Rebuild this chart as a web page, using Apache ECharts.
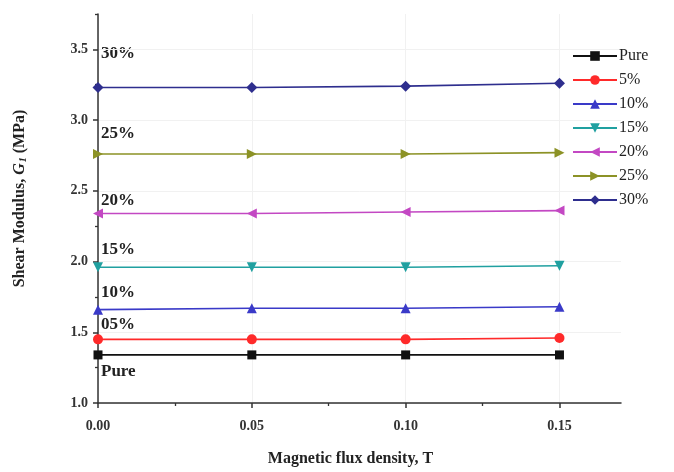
<!DOCTYPE html>
<html><head><meta charset="utf-8">
<script src="https://cdn.jsdelivr.net/npm/echarts@6/dist/echarts.min.js"></script>
<style>html,body{margin:0;padding:0;background:#fff}#c{width:674px;height:472px}</style>
</head><body><div id="c"></div>
<script>
const fieldX = [0.00, 0.05, 0.10, 0.15];
const seriesNames = ['Pure', '5%', '10%', '15%', '20%', '25%', '30%'];
const pure = [1.34, 1.34, 1.34, 1.34];
const p5 = [1.45, 1.45, 1.45, 1.46];
const p10 = [1.66, 1.67, 1.67, 1.68];
const p15 = [1.96, 1.96, 1.96, 1.97];
const p20 = [2.34, 2.34, 2.35, 2.36];
const p25 = [2.76, 2.76, 2.76, 2.77];
const p30 = [3.23, 3.23, 3.24, 3.26];
const xMajorTicks = [0.00, 0.05, 0.10, 0.15];
const xMinorTicks = [0.025, 0.075, 0.125];
const yMajorTicks = [1.0, 1.5, 2.0, 2.5, 3.0, 3.5];
const yMinorTicks = [1.25, 1.75, 2.25, 2.75, 3.25, 3.75];
const annotations = ['30%', '25%', '20%', '15%', '10%', '05%', 'Pure'];

const allValues = [pure, p5, p10, p15, p20, p25, p30];
const colors = ['#111111', '#ff2a2a', '#3a3ac8', '#20a0a0', '#c348c3', '#8c9226', '#2e2e8e'];
const symbols = ['rect', 'circle', 'triangle', 'triangle', 'triangle', 'triangle', 'diamond'];
const rotations = [0, 0, 0, 180, 90, -90, 0];
const sizes = [9, 10, 10, 10, 10, 10, 11];

const serif = 'Liberation Serif';
const chart = echarts.init(document.getElementById('c'));

const series = allValues.map((vals, i) => ({
  name: seriesNames[i],
  type: 'line',
  xAxisIndex: 0, yAxisIndex: 0,
  data: vals.map((v, j) => [fieldX[j], v]),
  symbol: symbols[i],
  symbolRotate: rotations[i],
  symbolSize: sizes[i],
  showAllSymbol: true,
  color: colors[i],
  lineStyle: { width: 1.6, color: colors[i] },
  itemStyle: { color: colors[i] },
  z: 3 + i
}));

const annoY = [54, 134, 201, 250, 293, 325, 372];
const graphics = annotations.map((t, i) => ({
  type: 'text', left: 101, top: annoY[i] - 9,
  style: { text: t, font: 'bold 17px "Liberation Serif"', fill: '#222' }
}));

chart.setOption({
  animation: false,
  backgroundColor: '#fff',
  grid: { left: 98, right: 53, top: 14, bottom: 69, containLabel: false },
  legend: {
    data: seriesNames,
    orient: 'vertical',
    left: 567, top: 43,
    itemWidth: 44, itemHeight: 12, itemGap: 8,
    textStyle: { fontFamily: serif, fontSize: 16, color: '#222', padding: [0, 0, 0, -3] }
  },
  xAxis: [{
    type: 'value', min: 0, max: 0.17, position: 'bottom',
    name: 'Magnetic flux density, T', nameLocation: 'middle', nameGap: 48,
    nameTextStyle: { fontFamily: serif, fontWeight: 'bold', fontSize: 16, color: '#222', padding: [0, 18, 0, 0] },
    axisLine: { onZero: false, lineStyle: { color: '#333', width: 1.5 } },
    axisTick: { inside: false, length: 5, lineStyle: { color: '#333', width: 1.5 }, customValues: xMajorTicks },
    axisLabel: { customValues: xMajorTicks, formatter: v => v.toFixed(2), fontFamily: serif, fontWeight: 'bold', fontSize: 14, color: '#333', margin: 16 },
    splitLine: { show: true, lineStyle: { color: '#f1f1f1', width: 1 } }
  }, {
    type: 'value', min: 0, max: 0.17, position: 'bottom', offset: 0,
    axisLine: { show: false },
    axisTick: { length: 3, lineStyle: { color: '#333', width: 1.3 }, customValues: xMinorTicks },
    axisLabel: { show: false },
    splitLine: { show: false }
  }],
  yAxis: [{
    type: 'value', min: 1.0, max: 3.75, position: 'left',
    name: 'Shear Modulus, {it|G}{sub|1} (MPa)', nameLocation: 'middle', nameGap: 70,
    nameTextStyle: {
      fontFamily: serif, fontWeight: 'bold', fontSize: 16, color: '#222', padding: [0, 0, 0, 20],
      rich: {
        it: { fontFamily: serif, fontWeight: 'bold', fontStyle: 'italic', fontSize: 16, color: '#222' },
        sub: { fontFamily: serif, fontWeight: 'bold', fontStyle: 'italic', fontSize: 10, color: '#222', verticalAlign: 'bottom', padding: [6, 0, 0, 1] }
      }
    },
    axisLine: { onZero: false, lineStyle: { color: '#333', width: 1.5 } },
    axisTick: { length: 5, lineStyle: { color: '#333', width: 1.5 }, customValues: yMajorTicks },
    axisLabel: { customValues: yMajorTicks, formatter: v => v.toFixed(1), fontFamily: serif, fontWeight: 'bold', fontSize: 14, color: '#333', margin: 10 },
    splitLine: { show: true, lineStyle: { color: '#f1f1f1', width: 1 } }
  }, {
    type: 'value', min: 1.0, max: 3.75, position: 'left', offset: 0,
    axisLine: { show: false },
    axisTick: { length: 3, lineStyle: { color: '#333', width: 1.3 }, customValues: yMinorTicks },
    axisLabel: { show: false },
    splitLine: { show: false }
  }],
  series: series,
  graphic: graphics
});
</script>
</body></html>
